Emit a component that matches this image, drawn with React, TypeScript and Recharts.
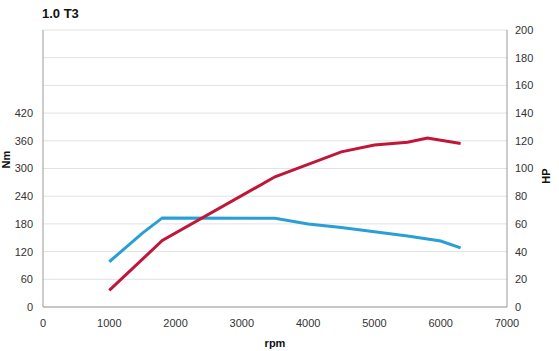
import { LineChart, Line, XAxis, YAxis, CartesianGrid } from 'recharts'

const torqueRpm = [1000, 1500, 1800, 3500, 4000, 4500, 5000, 5500, 6000, 6300]
const torqueNm = [98, 160, 193, 192, 180, 172, 163, 154, 143, 128]
const powerRpm = [1000, 1800, 3500, 4500, 5000, 5500, 5800, 6300]
const powerHp = [12, 48, 94, 112, 117, 119, 122, 118]

const rpmTicks = [0, 1000, 2000, 3000, 4000, 5000, 6000, 7000]
const nmTicks = [0, 60, 120, 180, 240, 300, 360, 420]
const hpTicks = [0, 20, 40, 60, 80, 100, 120, 140, 160, 180, 200]

const torqueData = torqueRpm.map((rpm, i) => ({ rpm, nm: torqueNm[i] }))
const powerData = powerRpm.map((rpm, i) => ({ rpm, hp: powerHp[i] }))

const FONT = '"Liberation Sans", Arial, sans-serif'
const tick = { fill: '#333', fontSize: 11, fontFamily: FONT }
const axisLine = { stroke: '#9a9a9a' }
const labelStyle = { fontWeight: 'bold', fontSize: 11, fill: '#111', fontFamily: FONT }

export default function App() {
  return (
    <div style={{ position: 'absolute', left: 0, top: 0, width: 559, height: 351, background: '#fff', fontFamily: FONT }}>
      <div style={{ position: 'absolute', left: 42, top: 6, fontSize: 13, fontWeight: 'bold', color: '#111' }}>1.0 T3</div>
      <LineChart width={559} height={351} margin={{ top: 30, right: 0, bottom: 0, left: 0 }}>
        <CartesianGrid yAxisId="hp" vertical={false} stroke="#e2e2e2" />
        <XAxis
          dataKey="rpm"
          type="number"
          domain={[0, 7000]}
          ticks={rpmTicks}
          tickLine={false}
          axisLine={axisLine}
          tick={tick}
          height={44}
          tickMargin={6}
          allowDuplicatedCategory={false}
          label={{ value: 'rpm', position: 'insideBottom', offset: 4, style: labelStyle }}
        />
        <YAxis
          yAxisId="nm"
          domain={[0, 600]}
          ticks={nmTicks}
          tickLine={false}
          axisLine={axisLine}
          tick={tick}
          width={43}
          tickMargin={4}
          label={{ value: 'Nm', angle: -90, position: 'insideLeft', offset: 6, style: labelStyle }}
        />
        <YAxis
          yAxisId="hp"
          orientation="right"
          domain={[0, 200]}
          ticks={hpTicks}
          tickLine={false}
          axisLine={axisLine}
          tick={tick}
          width={52}
          tickMargin={2}
          label={{ value: 'HP', angle: -90, position: 'insideRight', offset: 13, style: labelStyle }}
        />
        <Line yAxisId="nm" data={torqueData} dataKey="nm" stroke="#2a9fd4" strokeWidth={3} dot={false} isAnimationActive={false} />
        <Line yAxisId="hp" data={powerData} dataKey="hp" stroke="#c0163a" strokeWidth={3} dot={false} isAnimationActive={false} />
      </LineChart>
    </div>
  )
}
